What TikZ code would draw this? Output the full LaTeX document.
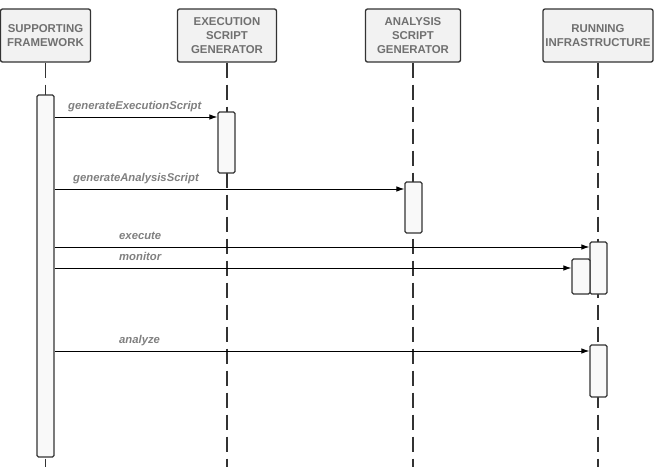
\documentclass[tikz,border=0pt]{standalone}
\usepackage{fontspec}
\setmainfont{Liberation Sans}
\usetikzlibrary{arrows.meta}

\definecolor{boxline}{HTML}{333333}
\definecolor{headfill}{HTML}{F2F2F2}
\definecolor{actfill}{HTML}{F9F9F9}
\definecolor{headtext}{HTML}{707070}
\definecolor{msgtext}{HTML}{808080}

\tikzset{
	head/.style={draw=boxline, line width=1.3pt, fill=headfill, rounded corners=2pt, minimum height=53pt, align=center, text=headtext, font=\fontsize{11.4}{13.6}\selectfont\bfseries, inner sep=2pt},
	life/.style={draw=boxline, line width=1.2pt, dash pattern=on 15pt off 7pt},
	act/.style={draw=boxline, line width=1.1pt, fill=actfill, rounded corners=1.5pt, minimum width=17pt, inner sep=0pt},
	msg/.style={draw=black, line width=1pt, -{Latex[length=8pt,width=5.5pt]}},
	lbl/.style={text=msgtext, font=\fontsize{11.3}{13}\selectfont\bfseries\itshape, inner sep=0pt, anchor=base west}
}

\begin{document}
\begin{tikzpicture}[x=1pt, y=-1pt]

				\useasboundingbox (0,0) rectangle (654,467);

				\node [head, minimum width=90pt] (sf) at (45.5,35.5) {SUPPORTING\\FRAMEWORK};
				\node [head, minimum width=99pt] (esg) at (227,35.5) {EXECUTION\\SCRIPT\\GENERATOR};
				\node [head, minimum width=95pt] (asg) at (413,35.5) {ANALYSIS\\SCRIPT\\GENERATOR};
				\node [head, minimum width=110pt] (ri) at (598,35.5) {RUNNING\\INFRASTRUCTURE};

				\coordinate (bottom) at (0,467);

				\draw [life] (sf.south) -- (sf.south |- bottom);
				\draw [life] (esg.south) -- (esg.south |- bottom);
				\draw [life] (asg.south) -- (asg.south |- bottom);
				\draw [life] (ri.south) -- (ri.south |- bottom);

				\node [act, minimum height=362pt] (sfact) at (45.5,276) {};
				\node [act, minimum height=61pt] (esgact) at (226.5,142.5) {};
				\node [act, minimum height=51pt] (asgact) at (413.5,207.5) {};
				\node [act, minimum height=52pt] (riexec) at (598.5,268) {};
				\node [act, minimum height=35pt, minimum width=18pt] (rimon) at (581,276.5) {};
				\node [act, minimum height=52pt] (riana) at (598.5,371) {};

				\coordinate (m1) at (0,117);
				\coordinate (m2) at (0,189);
				\coordinate (m3) at (0,247);
				\coordinate (m4) at (0,268);
				\coordinate (m5) at (0,351);

				\draw [msg] (sfact.east |- m1) -- (esgact.west |- m1);
				\draw [msg] (sfact.east |- m2) -- (asgact.west |- m2);
				\draw [msg] (sfact.east |- m3) -- (riexec.west |- m3);
				\draw [msg] (sfact.east |- m4) -- (rimon.west |- m4);
				\draw [msg] (sfact.east |- m5) -- (riana.west |- m5);

				\node [lbl] (l1) at (68,109) {generateExecutionScript};
				\node [lbl] (l2) at (73,181) {generateAnalysisScript};
				\node [lbl] (l3) at (119,239.5) {execute};
				\node [lbl] (l4) at (119,260) {monitor};
				\node [lbl] (l5) at (119,343) {analyze};
			\end{tikzpicture}
\end{document}
